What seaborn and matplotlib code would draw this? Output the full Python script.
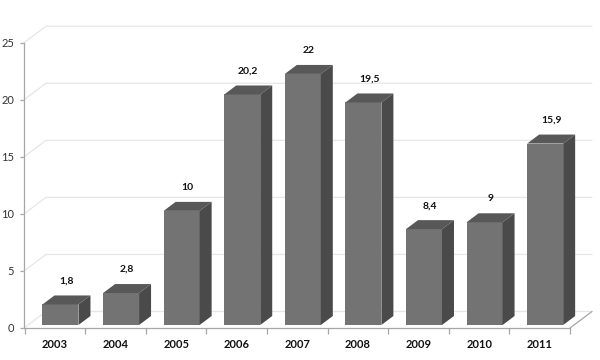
import matplotlib
matplotlib.use("Agg")
import matplotlib.pyplot as plt
import seaborn as sns
import numpy as np
import pandas as pd
from matplotlib.patches import Polygon
from matplotlib.lines import Line2D

years = ["2003", "2004", "2005", "2006", "2007", "2008", "2009", "2010", "2011"]
values = [1.8, 2.8, 10, 20.2, 22, 19.5, 8.4, 9, 15.9]
labels = ["1,8", "2,8", "10", "20,2", "22", "19,5", "8,4", "9", "15,9"]
yticks = [0, 5, 10, 15, 20, 25]

sns.set_style("white")
plt.rcParams['font.family'] = ['Lato', 'DejaVu Sans']

fig = plt.figure(figsize=(6, 3.6), dpi=100)
ax = fig.add_axes([0.04, 1 - 328 / 360, 0.91, (328 - 42.7) / 360])

df = pd.DataFrame({"year": years, "value": values})
sns.barplot(data=df, x="year", y="value", color="#737373", saturation=1,
            width=0.594, ax=ax, zorder=3, linewidth=0)

xlim = (-0.602, 8.41)
ylim = (0, 25)
ax.set_xlim(*xlim)
ax.set_ylim(*ylim)

W = 0.91 * 600
H = 328 - 42.7
sx = (xlim[1] - xlim[0]) / W
sy = (ylim[1] - ylim[0]) / H

# back wall grid lines
wdx, wdy = 22 * sx, 16.5 * sy
for v in yticks:
    ax.add_line(Line2D([xlim[0], xlim[0] + wdx, xlim[1] + wdx], [v, v + wdy, v + wdy],
                       color="#e6e6e6", lw=0.9, zorder=1, clip_on=False))
# floor right edge
ax.add_line(Line2D([xlim[1], xlim[1] + wdx], [0, wdy], color="#a6a6a6", lw=0.9,
                   zorder=2, clip_on=False))

# 3D faces
bdx, bdy = 12 * sx, 9 * sy
base = 3 * sy
for p, v in zip(ax.patches, values):
    p.set_y(base)
    x0 = p.get_x()
    x1 = x0 + p.get_width()
    h = base + p.get_height()
    top = Polygon([(x0, h), (x1, h), (x1 + bdx, h + bdy), (x0 + bdx, h + bdy)],
                  closed=True, facecolor="#585858", edgecolor="none", zorder=3, clip_on=False)
    side = Polygon([(x1, base), (x1 + bdx, base + bdy), (x1 + bdx, h + bdy), (x1, h)],
                   closed=True, facecolor="#4a4a4a", edgecolor="none", zorder=3, clip_on=False)
    ax.add_patch(top)
    ax.add_patch(side)

for i, (v, lab) in enumerate(zip(values, labels)):
    ax.annotate(lab, xy=(i, v + base), xytext=(6, 19), textcoords="offset pixels",
                ha="center", va="bottom", fontsize=7.5, fontweight="bold", color="#111111",
                zorder=5, annotation_clip=False)

pos = np.arange(len(years))
ax.set_xticks(pos - 0.09, years)
ax.set_xticks(np.arange(len(years) + 1) - 0.59, minor=True)
ax.tick_params(axis="x", which="major", length=0, pad=8, labelsize=8)
for t in ax.get_xticklabels():
    t.set_fontweight("bold")
    t.set_color("#111111")
ax.tick_params(axis="x", which="minor", length=4, color="#a6a6a6", width=0.9, direction="out", bottom=True)
ax.set_yticks(yticks)
ax.tick_params(axis="y", length=3, color="#a6a6a6", width=0.9, direction="out",
               labelsize=8, labelcolor="#333333", pad=4, left=True)
ax.set_xlabel("")
ax.set_ylabel("")

for s in ["top", "right"]:
    ax.spines[s].set_visible(False)
for s in ["left", "bottom"]:
    ax.spines[s].set_color("#a6a6a6")
    ax.spines[s].set_linewidth(0.9)
    ax.spines[s].set_zorder(4)

fig.savefig("out.png", dpi=100)
